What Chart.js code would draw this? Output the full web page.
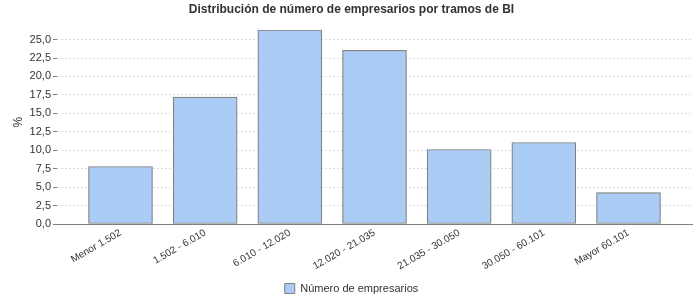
<!DOCTYPE html>
<html>
<head>
<meta charset="utf-8">
<script src="https://cdn.jsdelivr.net/npm/chart.js@4/dist/chart.umd.min.js"></script>
<style>
  html, body { margin: 0; padding: 0; background: #fff; }
  #wrap { width: 700px; height: 300px; }
</style>
</head>
<body>
<div id="wrap"><canvas id="tramosChart"></canvas></div>
<script>
const tramos = ['Menor 1.502', '1.502 - 6.010', '6.010 - 12.020', '12.020 - 21.035', '21.035 - 30.050', '30.050 - 60.101', 'Mayor 60.101'];
const empresarios = [7.8, 17.2, 26.3, 23.55, 10.1, 11.05, 4.25];
const yTicks = [0, 2.5, 5, 7.5, 10, 12.5, 15, 17.5, 20, 22.5, 25];

const fontFamily = '"Liberation Sans", Arial, sans-serif';
const points = tramos.map((t, i) => ({ x: i, y: empresarios[i] }));

let ctx = document.getElementById('tramosChart');

const chart = new Chart(ctx, {
    type: 'bar',
    data: {
        datasets: [{
            label: 'Número de empresarios',
            data: points,
            backgroundColor: 'rgb(170, 204, 245)',
            borderColor: 'rgb(128, 128, 128)',
            borderWidth: 1.2,
            borderSkipped: false,
            barThickness: 64
        }]
    },
    options: {
        responsive: true,
        maintainAspectRatio: false,
        animation: false,
        layout: { padding: { left: 11, right: 8, top: 0, bottom: -4 } },
        plugins: {
            title: {
                display: true,
                text: 'Distribución de número de empresarios por tramos de BI',
                color: '#333',
                font: { family: fontFamily, size: 12, weight: 'bold' },
                padding: { top: 2, bottom: 4 }
            },
            legend: {
                position: 'bottom',
                labels: {
                    color: '#333',
                    font: { family: fontFamily, size: 11 },
                    boxWidth: 10,
                    boxHeight: 10,
                    padding: 2,
                    generateLabels: (c) => [{
                        text: 'Número de empresarios',
                        fillStyle: 'rgb(170, 204, 245)',
                        strokeStyle: 'rgb(128, 128, 128)',
                        lineWidth: 1,
                        fontColor: '#333',
                        datasetIndex: 0
                    }]
                }
            },
            tooltip: { enabled: false }
        },
        scales: {
            x: {
                type: 'linear',
                min: -0.75,
                max: 6.75,
                offset: false,
                afterBuildTicks: (scale) => {
                    scale.ticks = tramos.map((t, i) => ({ value: i }));
                },
                afterFit: (scale) => { scale.height = 57; },
                ticks: {
                    autoSkip: false,
                    minRotation: 30,
                    maxRotation: 30,
                    padding: 3,
                    color: '#333',
                    font: { family: fontFamily, size: 10 },
                    callback: (v) => tramos[v]
                },
                grid: { display: true, drawOnChartArea: false, drawTicks: false },
                border: { display: true, color: 'rgb(128, 128, 128)', width: 1 }
            },
            y: {
                min: 0,
                max: 27.6,
                afterBuildTicks: (scale) => {
                    scale.ticks = yTicks.map(v => ({ value: v }));
                },
                afterFit: (scale) => { scale.width = 46; },
                title: {
                    display: true,
                    text: '%',
                    color: '#333',
                    font: { family: fontFamily, size: 12 },
                    padding: 0
                },
                ticks: {
                    color: '#333',
                    padding: 2,
                    font: { family: fontFamily, size: 11 },
                    callback: (v) => v.toFixed(1).replace('.', ',')
                },
                grid: {
                    color: 'rgb(220, 220, 220)',
                    tickColor: 'rgb(128, 128, 128)',
                    tickLength: 4,
                    drawTicks: true
                },
                border: { display: false, dash: [2, 2] }
            }
        }
    }
});
</script>
</body>
</html>
